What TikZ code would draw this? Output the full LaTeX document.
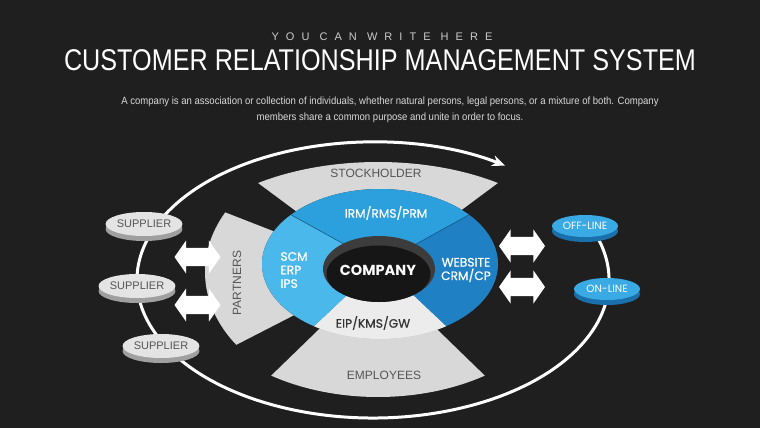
\documentclass[tikz,border=0pt]{standalone}
\usepackage{fontspec}
\setmainfont{Liberation Sans}
\newfontfamily\geofont{Poppins}
\newfontfamily\geomed[FakeBold=0.6]{Poppins}
\usetikzlibrary{shapes.geometric,shapes.arrows,shadows,arrows.meta}

\definecolor{bgdark}{RGB}{31,31,31}
\definecolor{panelgray}{RGB}{216,216,216}
\definecolor{labelgray}{RGB}{85,85,85}
\definecolor{blueTop}{RGB}{44,160,221}
\definecolor{blueLeft}{RGB}{74,184,235}
\definecolor{blueRight}{RGB}{31,128,196}
\definecolor{eipwhite}{RGB}{236,236,236}
\definecolor{wallgray}{RGB}{52,52,52}
\definecolor{eipwall}{RGB}{190,190,190}
\definecolor{holewall}{RGB}{60,60,60}
\definecolor{holefloor}{RGB}{22,22,22}
\definecolor{sectorline}{RGB}{22,90,130}
\definecolor{supface}{RGB}{228,228,228}
\definecolor{suprim}{RGB}{160,160,160}
\definecolor{chanface}{RGB}{58,170,228}
\definecolor{chanrim}{RGB}{26,112,170}

\tikzset{
  disc/.style={ellipse, minimum width=66pt, minimum height=24pt, inner sep=0pt},
  supplier/.style={disc, fill=supface, text=labelgray, font=\fontsize{11}{12}\selectfont,
    copy shadow={shadow xshift=0pt, shadow yshift=-5pt, fill=suprim, draw=none}},
  channel/.style={disc, minimum height=22pt, fill=chanface, text=white, font=\geofont\fontsize{10.5}{12}\selectfont,
    copy shadow={shadow xshift=0pt, shadow yshift=-5pt, fill=chanrim, draw=none}},
  dblarrow/.style={double arrow, fill=white, inner xsep=0pt, inner ysep=9pt, minimum height=46pt, minimum width=0pt,
    double arrow head extend=7.5pt, double arrow tip angle=110},
  panellabel/.style={text=labelgray, font=\fontsize{12}{14}\selectfont},
  ringlabel/.style={text=white, font=\geomed\fontsize{12.2}{13.5}\selectfont}
}

\begin{document}
\begin{tikzpicture}[x=1pt,y=-1pt]
  \fill[bgdark] (0,0) rectangle (760,428);
  \useasboundingbox (0,0) rectangle (760,428);

  \coordinate (G) at (378,272); % centre of the grey panels
  \coordinate (R) at (380,264); % centre of the ring
  \coordinate (H) at (379,269); % centre of the hole
  \coordinate (O) at (373,280); % centre of the orbit

  % Heading
  \node[text=white!80!black] (kicker) at (382,37)
    {\fontsize{11}{12}\selectfont\addfontfeature{LetterSpace=64}YOU CAN WRITE HERE};
  \node[text=white] (title) at (380,60)
    {\scalebox{0.84}[1]{\fontsize{30}{32}\selectfont CUSTOMER RELATIONSHIP MANAGEMENT SYSTEM}};
  \node[text=white!85!black] (blurb) at (390,109)
    {\scalebox{0.91}[1]{\fontsize{10.5}{16}\selectfont\begin{tabular}{@{}c@{}}
      A company is an association or collection of individuals, whether natural persons, legal persons, or a mixture of both. Company\\
      members share a common purpose and unite in order to focus.\end{tabular}}};

  % Orbit round everything
  \draw[white, line width=3pt, -{Stealth[length=13pt,width=11pt]}]
    (O) ++(-22:236 and 138) arc[start angle=-22, end angle=304, x radius=236, y radius=138];

  % Grey panels behind the ring
  \fill[panelgray] (G) -- ++(-126:204 and 110) arc[start angle=-126, end angle=-54, x radius=204, y radius=110] -- cycle;
  \fill[panelgray] (G) -- ++(56:191 and 125) arc[start angle=56, end angle=124, x radius=191, y radius=125] -- cycle;
  \fill[panelgray] (G) -- ++(145:173 and 127) arc[start angle=145, end angle=208, x radius=173, y radius=127] -- cycle;
  \node[panellabel] (stock) at (376,173) {STOCKHOLDER};
  \node[panellabel] (empl) at (384,375) {EMPLOYEES};
  \node[panellabel, rotate=90] (partn) at (237,283) {PARTNERS};

  % Side wall of the ring
  \begin{scope}[shift={(0,10)}]
    \foreach \a/\b/\c in {-139/-41/wallgray, -41/56/wallgray, 56/124/eipwall, 124/221/wallgray}
      \fill[\c] (R) -- ++(\a:118 and 75) arc[start angle=\a, end angle=\b, x radius=118, y radius=75] -- cycle;
  \end{scope}

  % Top of the ring
  \foreach \a/\b/\c in {-139/-41/blueTop, -41/56/blueRight, 56/124/eipwhite, 124/221/blueLeft}
    \fill[\c] (R) -- ++(\a:118 and 75) arc[start angle=\a, end angle=\b, x radius=118, y radius=75] -- cycle;
  \draw[sectorline, line width=0.6pt] (R) -- ++(-139:118 and 75);
  \draw[sectorline, line width=0.6pt] (R) -- ++(-41:118 and 75);

  % Hole
  \fill[holewall] (H) circle[x radius=56, y radius=33];
  \begin{scope}
    \clip (H) circle[x radius=56, y radius=33];
    \fill[holefloor] (378.5,274) circle[x radius=52, y radius=28.5];
  \end{scope}

  % Ring labels
  \node[ringlabel] (irm) at (386,213) {IRM/RMS/PRM};
  \node[ringlabel, align=left, anchor=west] (scm) at (277,270) {SCM\\ERP\\IPS};
  \node[ringlabel, align=center] (web) at (466,270) {WEBSITE\\CRM/CP};
  \node[ringlabel, text=black!80] (eip) at (373,323) {EIP/KMS/GW};
  \node[text=white, font=\geofont\bfseries\fontsize{14.5}{16}\selectfont] (company) at (378,270) {COMPANY};

  % Suppliers and channels
  \node[supplier] (sup1) at (144,224) {SUPPLIER};
  \node[supplier] (sup2) at (137,286) {SUPPLIER};
  \node[supplier] (sup3) at (161,346) {SUPPLIER};
  \node[channel] (offl) at (585,226) {OFF-LINE};
  \node[channel] (onl) at (607,289) {ON-LINE};

  % Exchange arrows
  \node[dblarrow] (larr1) at (197.5,257) {};
  \node[dblarrow] (larr2) at (197.5,305) {};
  \node[dblarrow] (rarr1) at (522,246) {};
  \node[dblarrow] (rarr2) at (522,287) {};
\end{tikzpicture}
\end{document}
